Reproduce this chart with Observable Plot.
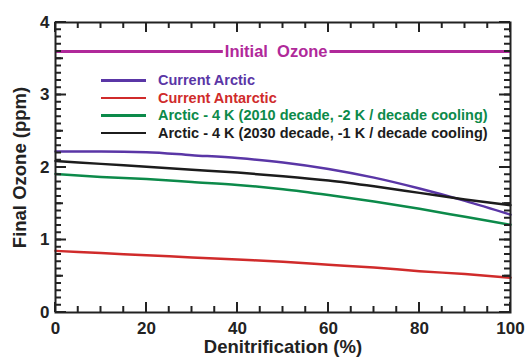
<!DOCTYPE html>
<html><head><meta charset="utf-8">
<script src="https://cdn.jsdelivr.net/npm/d3@7"></script>
<script src="https://cdn.jsdelivr.net/npm/@observablehq/plot@0.6"></script>
<style>
body{margin:0;background:#fff;}
#wrap{position:relative;width:532px;height:360px;font-family:"Liberation Sans",Arial,Helvetica,sans-serif;font-weight:bold;}
#legend{position:absolute;left:101px;top:71.5px;font-size:14.5px;}
.row{display:flex;align-items:center;height:17.5px;white-space:nowrap;}
.sw{width:45px;height:2.5px;margin-right:12px;}
</style>
</head><body>
<div id="wrap"><div id="chart"></div><div id="legend"></div></div>
<script>
// Data
const denitrification = [0, 10, 20, 30, 40, 50, 60, 70, 80, 90, 100];
const currentArctic    = [2.22, 2.22, 2.21, 2.17, 2.13, 2.07, 1.98, 1.86, 1.71, 1.54, 1.35];
const currentAntarctic = [0.85, 0.82, 0.79, 0.76, 0.73, 0.70, 0.66, 0.62, 0.57, 0.53, 0.48];
const arctic2010       = [1.91, 1.87, 1.84, 1.80, 1.76, 1.70, 1.62, 1.53, 1.43, 1.32, 1.21];
const arctic2030       = [2.09, 2.05, 2.01, 1.97, 1.93, 1.88, 1.82, 1.74, 1.65, 1.56, 1.48];
const initialOzone = 3.6;
const initialLabel = "Initial\u00a0 Ozone";
const initialLabelX = 48.5;

const seriesNames = [
  "Current Arctic",
  "Current Antarctic",
  "Arctic - 4 K (2010 decade, -2 K / decade cooling)",
  "Arctic - 4 K (2030 decade, -1 K / decade cooling)"
];
const seriesValues = [currentArctic, currentAntarctic, arctic2010, arctic2030];
const seriesColors = ["#5a36a6", "#d02b2b", "#0c8a4a", "#1c1c1c"];
const initialColor = "#b0299a";

const xTicks = [0, 20, 40, 60, 80, 100];
const xMinorTicks = d3.range(0, 21).map(i => i * 5);
const yTicks = [0, 1, 2, 3, 4];
const yMinorTicks = d3.range(0, 41).map(i => i / 10);
const yHalfTicks = [0.5, 1.5, 2.5, 3.5];
const xLabel = "Denitrification (%)";
const yLabel = "Final Ozone (ppm)";

const rows = [];
seriesNames.forEach((name, i) => {
  denitrification.forEach((x, j) => rows.push({series: name, x, y: seriesValues[i][j]}));
});

const font = {fontSize: 17, fontWeight: "bold"};
const [xMin, xMax] = [0, 100];
const [yMin, yMax] = [0, 4];

const chart = Plot.plot({
  width: 532, height: 360,
  marginLeft: 55, marginRight: 22, marginTop: 22, marginBottom: 48,
  style: {fontFamily: "'Liberation Sans', Arial, Helvetica, sans-serif", color: "#222", background: "#fff"},
  x: {domain: [xMin, xMax]},
  y: {domain: [yMin, yMax]},
  color: {domain: seriesNames, range: seriesColors},
  marks: [
    Plot.ruleY([initialOzone], {stroke: initialColor, strokeWidth: 3}),
    Plot.text([initialLabel], {x: initialLabelX, y: initialOzone, text: d => d, fill: initialColor, fontSize: 16.5, fontWeight: "bold", letterSpacing: "0.6px"}),
    Plot.line(rows, {x: "x", y: "y", z: "series", stroke: "series", strokeWidth: 2.5, curve: "monotone-x"}),
    Plot.axisX({ticks: xTicks, tickSize: 0, tickPadding: 9, anchor: "bottom", ...font, label: null, letterSpacing: "0.8px"}),
    Plot.axisY({ticks: yTicks, tickSize: 0, tickPadding: 6, anchor: "left", ...font, label: null, tickFormat: d3.format("d")}),
    Plot.frame({stroke: "#222", strokeWidth: 2}),
    Plot.text([xLabel], {frameAnchor: "bottom", dy: 40, text: d => d, fontSize: 18.5, fontWeight: "bold", fill: "#222"}),
    Plot.text([yLabel], {frameAnchor: "left", textAnchor: "middle", dx: -35, rotate: -90, text: d => d, fontSize: 18.5, fontWeight: "bold", fill: "#222"})
  ]
});
document.getElementById("chart").appendChild(chart);

// inward ticks on all four sides, positioned through Plot's own scales
const sx = chart.scale("x"), sy = chart.scale("y");
const svg = d3.select(chart);
const tg = svg.append("g").attr("stroke", "#222").attr("stroke-width", 2);
const X0 = sx.apply(xMin), X1 = sx.apply(xMax), Y0 = sy.apply(yMin), Y1 = sy.apply(yMax);
const addX = (ticks, s) => ticks.forEach(v => {
  const px = sx.apply(v);
  tg.append("path").attr("d", `M${px},${Y0}v${-s}`);
  tg.append("path").attr("d", `M${px},${Y1}v${s}`);
});
const addY = (ticks, s) => ticks.forEach(v => {
  const py = sy.apply(v);
  tg.append("path").attr("d", `M${X0},${py}h${s}`);
  tg.append("path").attr("d", `M${X1},${py}h${-s}`);
});
addX(xMinorTicks, 6); addX(xTicks, 10);
addY(yMinorTicks, 6); addY(yHalfTicks, 8); addY(yTicks, 11);

// white gap behind the "Initial Ozone" label so the rule is broken around it
for (const t of chart.querySelectorAll("text")) {
  if (t.textContent === initialLabel) {
    const b = t.getBBox();
    const r = document.createElementNS("http://www.w3.org/2000/svg", "rect");
    r.setAttribute("x", b.x - 2); r.setAttribute("y", b.y);
    r.setAttribute("width", b.width + 4); r.setAttribute("height", b.height);
    r.setAttribute("fill", "white");
    const ctm = t.getAttribute("transform");
    if (ctm) r.setAttribute("transform", ctm);
    t.parentNode.insertBefore(r, t);
  }
}

const legend = document.getElementById("legend");
seriesNames.forEach((name, i) => {
  const row = document.createElement("div");
  row.className = "row";
  row.innerHTML = `<span class="sw" style="background:${seriesColors[i]}"></span><span style="color:${seriesColors[i]}">${name}</span>`;
  legend.appendChild(row);
});
</script>
</body></html>
